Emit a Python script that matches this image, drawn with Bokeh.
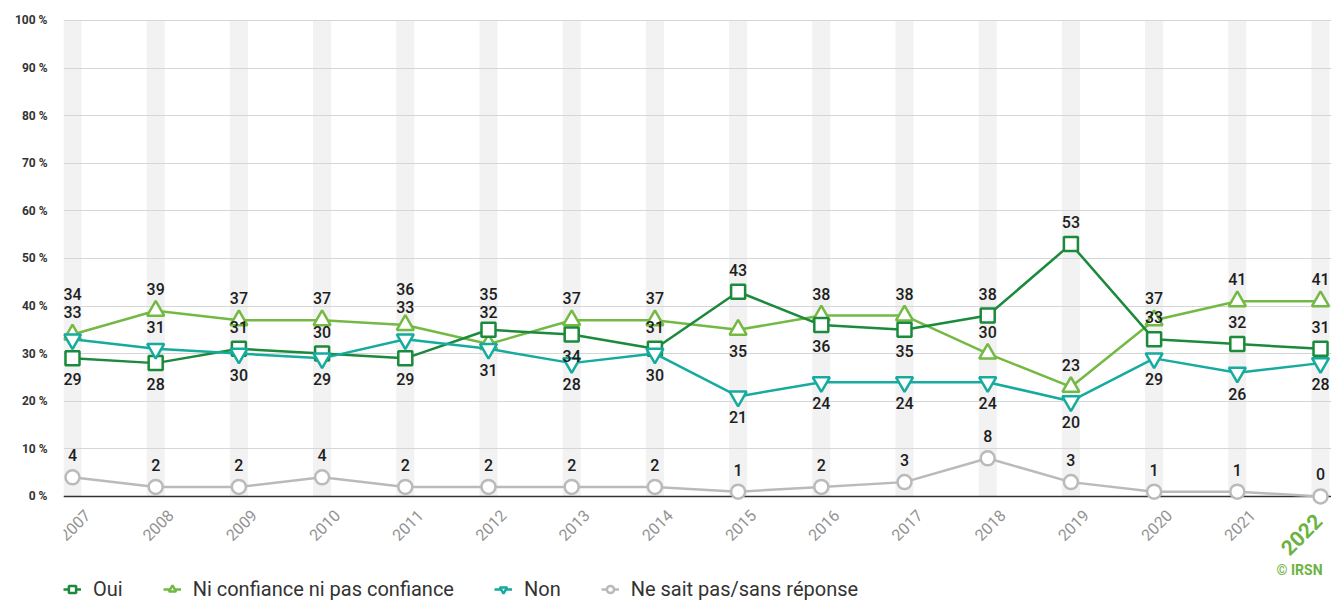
import math
from bokeh.plotting import figure
from bokeh.models import (Range1d, Label, LabelSet, Legend, LegendItem,
                          FixedTicker, ColumnDataSource)
from bokeh.embed import file_html
from bokeh.resources import INLINE
from bokeh.core.properties import value

# ---------------- data ----------------
years = [str(y) for y in range(2007, 2023)]
oui = [29, 28, 31, 30, 29, 35, 34, 31, 43, 36, 35, 38, 53, 33, 32, 31]
ni = [34, 39, 37, 37, 36, 32, 37, 37, 35, 38, 38, 30, 23, 37, 41, 41]
non = [33, 31, 30, 29, 33, 31, 28, 30, 21, 24, 24, 24, 20, 29, 26, 28]
nsp = [4, 2, 2, 4, 2, 2, 2, 2, 1, 2, 3, 8, 3, 1, 1, 0]
series_names = ["Oui", "Ni confiance ni pas confiance", "Non", "Ne sait pas/sans réponse"]
y_ticks = list(range(0, 101, 10))
y_tick_labels = [f"{t} %" for t in y_ticks]

# data-label side per point: A = above, B = below
oui_side = "BBAABABAABBAAAAA"
ni_side = "AAAAAAAABAAAAAAA"
non_side = "AABBABBBBBBBBBBB"
nsp_side = "AAAAAAAAAAAAAAAA"

# ---------------- styles ----------------
C_OUI = "#1b8a3c"
C_NI = "#74b944"
C_NON = "#16ab9f"
C_NSP = "#bababa"
C_ACCENT = "#6bb33f"
FONT = "Roboto"
FONT_MED = "Roboto Medium, Roboto"

W, H = 1331, 601
BL, BT, BR, BB = 63, 18, 0, 0
FH = H - BT - BB
FW = W - BL - BR
ppu = 4.76                    # pixels per percentage point
Y1 = 100.4
Y0 = Y1 - FH / ppu
X0, X1 = -0.108, 15.132

p = figure(width=W, height=H, output_backend="svg", toolbar_location=None,
           x_range=Range1d(X0, X1), y_range=Range1d(Y0, Y1),
           x_axis_location=None, min_border_left=BL, min_border_top=BT,
           min_border_right=BR, min_border_bottom=BB)
p.outline_line_color = None
p.background_fill_color = "white"
p.border_fill_color = "white"
p.xgrid.grid_line_color = None
p.ygrid.ticker = FixedTicker(ticks=y_ticks)
p.ygrid.grid_line_color = "#d6d6d6"
p.ygrid.grid_line_width = 1

ya = p.yaxis[0]
ya.ticker = FixedTicker(ticks=y_ticks)
ya.major_label_overrides = {t: lab for t, lab in zip(y_ticks, y_tick_labels)}
ya.axis_line_color = None
ya.major_tick_line_color = None
ya.minor_tick_line_color = None
ya.major_tick_in = 0
ya.major_tick_out = 0
ya.major_label_standoff = 16
ya.major_label_text_font = FONT
ya.major_label_text_font_style = "bold"
ya.major_label_text_font_size = "12px"
ya.major_label_text_color = "#333333"

xs = list(range(len(years)))

# background bands
bands = p.vbar(x=xs, width=0.217, bottom=0, top=100, fill_color="#f2f2f2",
               line_color=None)
bands.level = "image"

# zero line
p.hspan(y=[0], line_color="#333333", line_width=1.6)

renderers = {}
specs = [
    ("ni", ni, C_NI, "triangle", 17),
    ("oui", oui, C_OUI, "square", 14),
    ("non", non, C_NON, "inverted_triangle", 17),
    ("nsp", nsp, C_NSP, "circle", 14),
]
for key, vals, col, mk, sz in specs:
    src = ColumnDataSource(dict(x=xs, y=vals))
    ln = p.line("x", "y", source=src, line_color=col, line_width=2.5)
    sc = p.scatter("x", "y", source=src, marker=mk, size=sz, fill_color="white",
                   line_color=col, line_width=2.5)
    renderers[key] = [ln, sc]

# data labels with simple collision stacking
all_series = [oui, ni, non, nsp]
all_sides = [oui_side, ni_side, non_side, nsp_side]
offsets = [[0.0] * len(years) for _ in all_series]
for i in range(len(years)):
    ups = sorted((s[i], k) for k, s in enumerate(all_series) if all_sides[k][i] == "A")
    pos = {k: v * ppu + 22 for v, k in ups}
    for (v1, k1), (v2, k2) in zip(ups, ups[1:]):
        if pos[k2] - pos[k1] < 18:
            mid = (pos[k1] + pos[k2]) / 2 + 3
            pos[k1] = mid
            pos[k2] = mid + 18
    for k, s in enumerate(all_series):
        if all_sides[k][i] == "A":
            offsets[k][i] = -(pos[k] - s[i] * ppu)
        else:
            offsets[k][i] = 21

lx, ly, lt, lo = [], [], [], []
for k, s in enumerate(all_series):
    for i, v in enumerate(s):
        lx.append(i)
        ly.append(v)
        lt.append(str(v))
        lo.append(offsets[k][i])
lsrc = ColumnDataSource(dict(x=lx, y=ly, t=lt, o=lo))
p.text("x", "y", text="t", y_offset="o", source=lsrc, text_font=value(FONT_MED),
       text_font_size="16px", text_align="center", text_baseline="middle",
       text_color="#1e1e1e")

# x category labels
ysrc = ColumnDataSource(dict(x=xs[:-1], y=[0] * (len(xs) - 1), t=years[:-1]))
p.add_layout(LabelSet(x="x", y="y", text="t", source=ysrc, angle=math.pi / 4,
                      x_offset=15, y_offset=-16, text_align="right",
                      text_baseline="middle", text_font=value(FONT),
                      text_font_size="16px", text_color="#939393"))
p.add_layout(Label(x=xs[-1], y=0, text=years[-1], angle=math.pi / 4,
                   x_offset=-2, y_offset=-21, text_align="right",
                   text_baseline="middle", text_font=FONT,
                   text_font_size="21px", text_font_style="bold",
                   text_color=C_ACCENT))
p.add_layout(Label(x=xs[-1], y=0, text="© IRSN", x_offset=2, y_offset=-74,
                   text_align="right", text_baseline="middle", text_font=FONT,
                   text_font_size="14px", text_font_style="bold",
                   text_color=C_ACCENT))

legend = Legend(items=[
    LegendItem(label=series_names[0], renderers=renderers["oui"]),
    LegendItem(label=series_names[1], renderers=renderers["ni"]),
    LegendItem(label=series_names[2], renderers=renderers["non"]),
    LegendItem(label=series_names[3], renderers=renderers["nsp"]),
], orientation="horizontal", location=(0, 0), margin=0, padding=0,
    spacing=40, label_standoff=12, glyph_width=18, glyph_height=20,
    label_text_font=FONT, label_text_font_size="20px",
    label_text_color="#333333", border_line_color=None,
    background_fill_alpha=0)
p.add_layout(legend)

open("out.html", "w").write(file_html(p, INLINE))
